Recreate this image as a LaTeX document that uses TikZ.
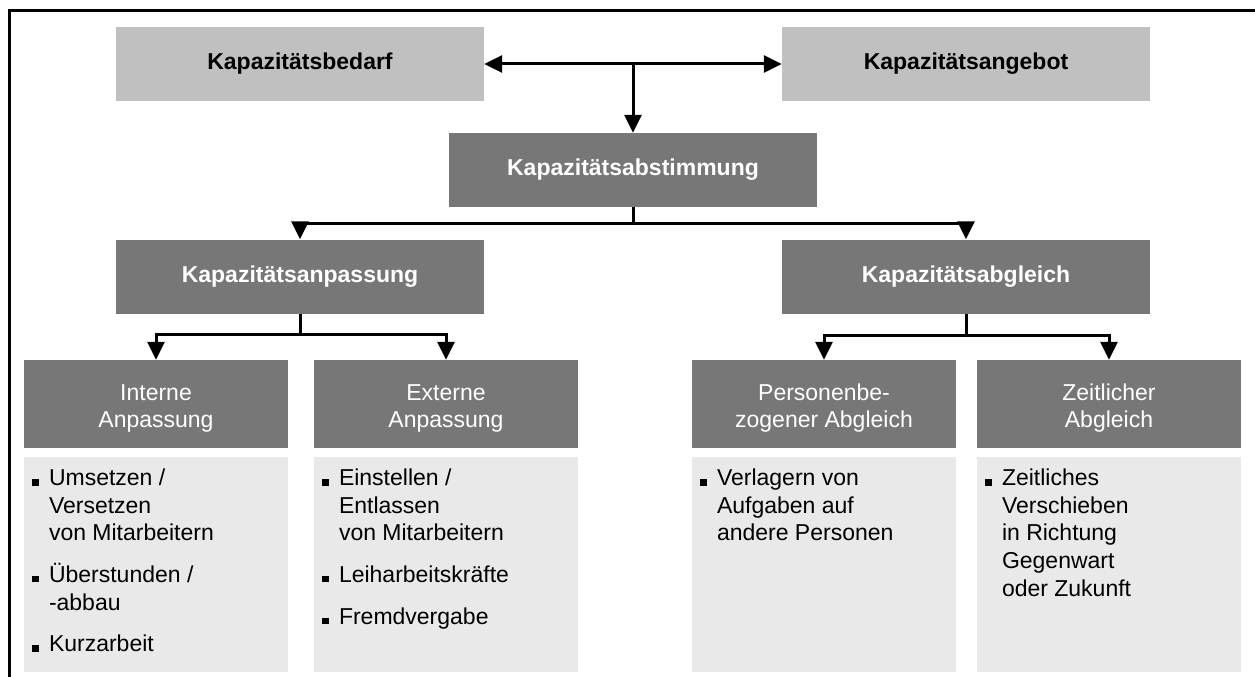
\documentclass[tikz,border=0pt]{standalone}
\usepackage{fontspec}
\setmainfont{Liberation Sans}
\usetikzlibrary{arrows.meta}
\definecolor{headlight}{HTML}{C0C0C0}
\definecolor{headdark}{HTML}{777777}
\definecolor{listbg}{HTML}{E9E9E9}
\newcommand\bmark{\makebox[17pt][l]{\rule{6.5pt}{6.5pt}}}
\newcommand\bindent{\hspace*{17pt}}
\newcommand\toplift{\rule{0pt}{25pt}}
\tikzset{
  txt/.style={font=\fontsize{23}{27.6}\selectfont},
  topbox/.style={txt, fill=headlight, text=black, inner sep=0pt,
    minimum width=368pt, minimum height=74pt, font=\fontsize{23}{27.6}\selectfont\bfseries},
  midbox/.style={topbox, fill=headdark, text=white},
  subbox/.style={txt, fill=headdark, text=white, inner sep=0pt, align=center,
    minimum width=264pt, minimum height=88pt},
  listbox/.style={fill=listbg, inner sep=0pt, minimum width=264pt, minimum height=215pt},
  listtext/.style={txt, inner sep=0pt, align=left, anchor=north west, xshift=8pt, yshift=-12pt},
  tip/.style={Triangle[length=18pt,width=17pt]},
  conn/.style={line width=3pt, -{Triangle[length=18pt,width=17pt]}},
  frame/.style={line width=3pt}
}
\begin{document}
\begin{tikzpicture}[x=1pt,y=-1pt]
\useasboundingbox (0,0) rectangle (1255,677);
% open frame (top and left edge)
\draw[frame] (9.5,677) -- (9.5,10.5) -- (1255,10.5);

% level 1
\node[topbox] (bedarf)  at (300,64) {Kapazitätsbedarf};
\node[topbox] (angebot) at (966,64) {Kapazitätsangebot};
\node[midbox] (abst)    at (633,170) {Kapazitätsabstimmung};

% level 2
\node[midbox] (anp) at (300,276.5) {Kapazitätsanpassung};
\node[midbox] (abg) at (966,276.5) {Kapazitätsabgleich};

% level 3
\node[subbox] (int) at (156,404) {\toplift Interne\\Anpassung};
\node[subbox] (ext) at (446,404) {\toplift Externe\\Anpassung};
\node[subbox] (per) at (824,404) {\toplift Personenbe-\\zogener Abgleich};
\node[subbox] (zei) at (1109,404) {\toplift Zeitlicher\\Abgleich};

% measure lists
\node[listbox] (lint) at (156,564.5) {};
\node[listbox] (lext) at (446,564.5) {};
\node[listbox] (lper) at (824,564.5) {};
\node[listbox] (lzei) at (1109,564.5) {};

\node[listtext] (tint) at (lint.north west) {%
  \bmark Umsetzen /\\ \bindent Versetzen\\ \bindent von Mitarbeitern\\[14pt]
  \bmark Überstunden /\\ \bindent -abbau\\[14pt]
  \bmark Kurzarbeit};
\node[listtext] (text) at (lext.north west) {%
  \bmark Einstellen /\\ \bindent Entlassen\\ \bindent von Mitarbeitern\\[14pt]
  \bmark Leiharbeitskräfte\\[14pt]
  \bmark Fremdvergabe};
\node[listtext] (tper) at (lper.north west) {%
  \bmark Verlagern von\\ \bindent Aufgaben auf\\ \bindent andere Personen};
\node[listtext] (tzei) at (lzei.north west) {%
  \bmark Zeitliches\\ \bindent Verschieben\\ \bindent in Richtung\\
  \bindent Gegenwart\\ \bindent oder Zukunft};

% connectors
\coordinate (j) at (bedarf.east -| abst.north);
\draw[line width=3pt, {Triangle[length=18pt,width=17pt]}-{Triangle[length=18pt,width=17pt]}]
  (bedarf.east) -- (angebot.west);
\draw[conn] (j) -- (abst.north);

\draw[conn] (abst.south) -- ++(0,16) -| (anp.north);
\draw[conn] (abst.south) -- ++(0,16) -| (abg.north);

\draw[conn] (anp.south) -- ++(0,21) -| (int.north);
\draw[conn] (anp.south) -- ++(0,21) -| (ext.north);

\draw[conn] (abg.south) -- ++(0,22) -| (per.north);
\draw[conn] (abg.south) -- ++(0,22) -| (zei.north);
\end{tikzpicture}
\end{document}
